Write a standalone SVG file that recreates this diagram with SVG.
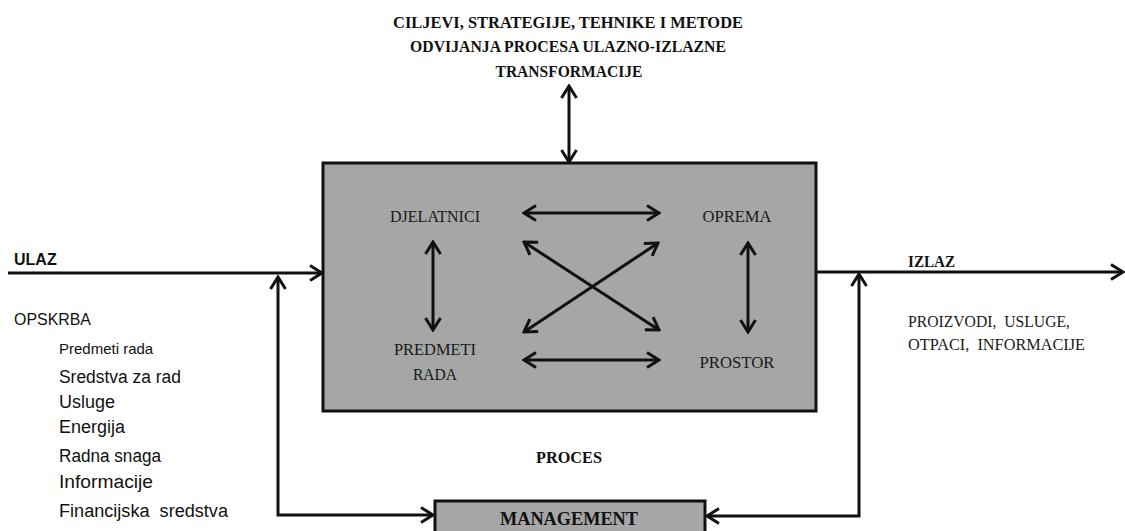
<svg xmlns="http://www.w3.org/2000/svg" width="1125" height="531" viewBox="0 0 1125 531">
<style>
.bs{font-family:"Liberation Serif","Times New Roman",serif;font-weight:bold;fill:#111;text-anchor:middle}
.rs{font-family:"Liberation Serif","Times New Roman",serif;fill:#1a1a1a;text-anchor:middle;font-size:17.5px}
.ls{font-family:"Liberation Sans",Arial,sans-serif;fill:#111;font-size:17px}
.ln{fill:none;stroke:#111;stroke-width:3}
.box{fill:#a6a6a6;stroke:#111;stroke-width:3}
.pre{white-space:pre}
</style>
<defs>
<marker id="ah" viewBox="0 0 16 18" refX="14" refY="9" markerWidth="16" markerHeight="18" markerUnits="userSpaceOnUse" orient="auto-start-reverse">
<path d="M2,1.5 L14,9 L2,16.5" fill="none" stroke="#111" stroke-width="3"/>
</marker>
</defs>

<g id="top-text">
<text class="bs" x="568" y="28" font-size="17.5" textLength="350" lengthAdjust="spacingAndGlyphs">CILJEVI, STRATEGIJE, TEHNIKE I METODE</text>
<text class="bs" x="568" y="52" font-size="17.5" textLength="316" lengthAdjust="spacingAndGlyphs">ODVIJANJA PROCESA ULAZNO-IZLAZNE</text>
<text class="bs" x="569" y="77" font-size="17.5" textLength="147" lengthAdjust="spacingAndGlyphs">TRANSFORMACIJE</text>
</g>

<g id="proces">
<rect class="box" x="323" y="163" width="493" height="248"/>
<text class="bs" x="569" y="463" font-size="17.5" textLength="66" lengthAdjust="spacingAndGlyphs">PROCES</text>
</g>

<g id="djelatnici"><text class="rs" x="435" y="222" textLength="90" lengthAdjust="spacingAndGlyphs">DJELATNICI</text></g>
<g id="oprema"><text class="rs" x="737" y="222" textLength="69" lengthAdjust="spacingAndGlyphs">OPREMA</text></g>
<g id="predmeti-rada"><text class="rs" x="435" y="355" textLength="82" lengthAdjust="spacingAndGlyphs">PREDMETI</text><text class="rs" x="435" y="380" textLength="44" lengthAdjust="spacingAndGlyphs">RADA</text></g>
<g id="prostor"><text class="rs" x="737" y="368" textLength="75" lengthAdjust="spacingAndGlyphs">PROSTOR</text></g>

<g id="management">
<rect class="box" x="435" y="501" width="270" height="40"/>
<text class="bs" x="569" y="525" font-size="19.5" textLength="138" lengthAdjust="spacingAndGlyphs">MANAGEMENT</text>
</g>

<g id="ulaz">
<text x="14" y="265" font-family="Liberation Sans,Arial,sans-serif" font-weight="bold" font-size="16" fill="#111">ULAZ</text>
<text class="ls" x="14" y="325" style="font-size:17px" textLength="77" lengthAdjust="spacingAndGlyphs">OPSKRBA</text>
<text class="ls" x="59" y="354" style="font-size:15px">Predmeti rada</text>
<text class="ls" x="59" y="383" style="font-size:18px" textLength="122" lengthAdjust="spacingAndGlyphs">Sredstva za rad</text>
<text class="ls" x="59" y="408" style="font-size:18px" textLength="56" lengthAdjust="spacingAndGlyphs">Usluge</text>
<text class="ls" x="59" y="433" style="font-size:18px" textLength="66" lengthAdjust="spacingAndGlyphs">Energija</text>
<text class="ls" x="59" y="462" style="font-size:18px" textLength="102" lengthAdjust="spacingAndGlyphs">Radna snaga</text>
<text class="ls" x="59" y="488" style="font-size:18px" textLength="94" lengthAdjust="spacingAndGlyphs">Informacije</text>
<text class="ls pre" x="59" y="517" style="font-size:18px" textLength="169" lengthAdjust="spacingAndGlyphs">Financijska  sredstva</text>
</g>

<g id="izlaz">
<text x="908" y="267" font-family="Liberation Serif,Times New Roman,serif" font-weight="bold" font-size="16" fill="#111" textLength="47" lengthAdjust="spacingAndGlyphs">IZLAZ</text>
<text class="pre" x="908" y="327" font-family="Liberation Serif,Times New Roman,serif" font-size="17.5" fill="#1a1a1a" textLength="162" lengthAdjust="spacingAndGlyphs">PROIZVODI,  USLUGE,</text>
<text class="pre" x="908" y="350" font-family="Liberation Serif,Times New Roman,serif" font-size="17.5" fill="#1a1a1a" textLength="177" lengthAdjust="spacingAndGlyphs">OTPACI,  INFORMACIJE</text>
</g>

<g id="connectors">
<line class="ln" x1="569" y1="86" x2="569" y2="162" marker-start="url(#ah)" marker-end="url(#ah)"/>
<line class="ln" x1="8" y1="273" x2="322" y2="273" marker-end="url(#ah)"/>
<line class="ln" x1="816" y1="272" x2="1123" y2="272" marker-end="url(#ah)"/>
<path class="ln" d="M278,277 V515 H433" marker-start="url(#ah)" marker-end="url(#ah)"/>
<path class="ln" d="M859,274 V516 H707" marker-start="url(#ah)" marker-end="url(#ah)"/>
<line class="ln" x1="524" y1="213" x2="659" y2="213" marker-start="url(#ah)" marker-end="url(#ah)"/>
<line class="ln" x1="524" y1="360" x2="659" y2="360" marker-start="url(#ah)" marker-end="url(#ah)"/>
<line class="ln" x1="433" y1="242" x2="433" y2="330" marker-start="url(#ah)" marker-end="url(#ah)"/>
<line class="ln" x1="748" y1="243" x2="748" y2="332" marker-start="url(#ah)" marker-end="url(#ah)"/>
<line class="ln" x1="524" y1="242" x2="659" y2="330" marker-start="url(#ah)" marker-end="url(#ah)"/>
<line class="ln" x1="524" y1="332" x2="658" y2="243" marker-start="url(#ah)" marker-end="url(#ah)"/>
</g>
</svg>
